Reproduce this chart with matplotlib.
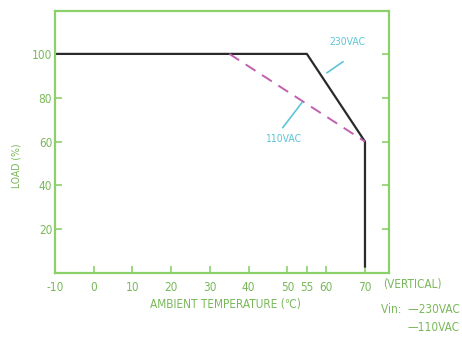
import matplotlib
matplotlib.use("Agg")
import matplotlib.pyplot as plt

# derating curves, ambient temperature (C) vs load (%)
temp_230 = [-10, 55, 70, 70]
load_230 = [100, 100, 60, 3]
temp_110 = [35, 70]
load_110 = [100, 60]

x_ticks = [-10, 0, 10, 20, 30, 40, 50, 55, 60, 70]
y_ticks = [20, 40, 60, 80, 100]

C_AXIS = "#8cd06a"
C_TEXT = "#79b85a"
C_NOTE = "#5cc6d6"
C_LINE = "#2a2a2a"
C_DASH = "#c060b0"

plt.rcParams["font.family"] = ["DejaVu Sans"]
plt.rcParams["font.stretch"] = "condensed"
plt.rcParams["axes.unicode_minus"] = False

fig = plt.figure(figsize=(4.62, 3.38), dpi=100)
ax = fig.add_axes([0.119, 0.192, 0.723, 0.775])

ax.plot(temp_230, load_230, color=C_LINE, lw=1.6)
ax.plot(temp_110, load_110, color=C_DASH, lw=1.4, dashes=(6, 4))

ax.set_xlim(-10, 76.2)
ax.set_ylim(0, 119.5)
ax.set_xticks(x_ticks)
ax.set_yticks(y_ticks)
ax.tick_params(axis="both", direction="in", colors=C_AXIS, labelcolor=C_TEXT,
               labelsize=8.5, length=5, width=1.2, right=True)
ax.tick_params(axis="x", pad=6)
ax.tick_params(axis="y", pad=2)
for sp in ax.spines.values():
    sp.set_color(C_AXIS)
    sp.set_linewidth(1.6)

# leader notes
ax.plot([60.2, 64.3], [91.4, 96.4], color=C_NOTE, lw=1.2)
ax.text(65.6, 105.5, "230VAC", color=C_NOTE, fontsize=7.5, ha="center", va="center")
ax.plot([48.8, 53.7], [66.4, 77.7], color=C_NOTE, lw=1.2)
ax.text(48.8, 61.4, "110VAC", color=C_NOTE, fontsize=7.5, ha="center", va="center")

fig.text(0.036, 0.51, "LOAD (%)", rotation=90, color=C_TEXT, fontsize=7.5,
         ha="center", va="center")
fig.text(0.487, 0.100, "AMBIENT TEMPERATURE (\u2103)", color=C_TEXT, fontsize=8.5,
         ha="center", va="center")
fig.text(0.83, 0.157, "(VERTICAL)", color=C_TEXT, fontsize=8.5, ha="left", va="center")
fig.text(0.995, 0.083, "Vin:  \u2014230VAC", color=C_TEXT, fontsize=8.5,
         ha="right", va="center")
fig.text(0.995, 0.032, "\u2014110VAC", color=C_TEXT, fontsize=8.5,
         ha="right", va="center")

fig.savefig("out.png", dpi=100)
